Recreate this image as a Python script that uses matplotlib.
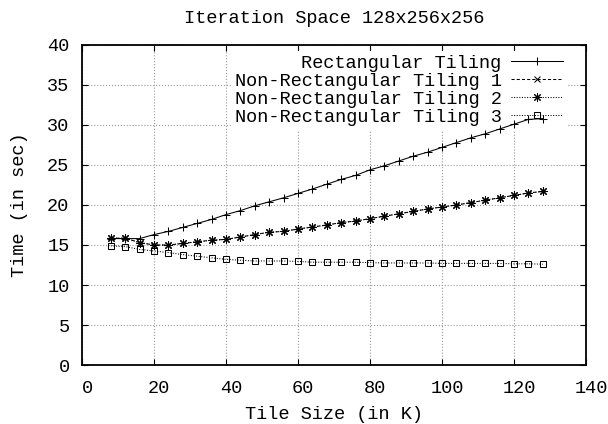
import matplotlib
matplotlib.use("Agg")
import matplotlib.pyplot as plt
import matplotlib.transforms as mtransforms
import numpy as np

# tile sizes (K)
tile_size = [8, 12, 16, 20, 24, 28, 32, 36, 40, 44, 48, 52, 56, 60, 64, 68,
             72, 76, 80, 84, 88, 92, 96, 100, 104, 108, 112, 116, 120, 124, 128]

rect = [15.8, 15.8, 15.8, 16.3, 16.7, 17.2, 17.7, 18.2, 18.8, 19.3, 19.9, 20.4,
        20.9, 21.45, 22.0, 22.6, 23.2, 23.7, 24.4, 24.9, 25.5, 26.1, 26.6, 27.2,
        27.8, 28.4, 28.9, 29.5, 30.1, 30.7, 30.8]

nonrect1 = [15.85, 15.85, 15.3, 15.0, 15.0, 15.2, 15.4, 15.6, 15.7, 16.0, 16.3,
            16.6, 16.7, 17.0, 17.25, 17.5, 17.8, 18.0, 18.3, 18.6, 18.9, 19.2,
            19.5, 19.75, 20.0, 20.3, 20.6, 20.9, 21.2, 21.5, 21.7]

nonrect2 = [15.85, 15.85, 15.3, 15.0, 15.0, 15.2, 15.4, 15.6, 15.7, 16.0, 16.3,
            16.6, 16.7, 17.0, 17.25, 17.5, 17.8, 18.0, 18.3, 18.6, 18.9, 19.2,
            19.5, 19.75, 20.0, 20.3, 20.6, 20.9, 21.2, 21.5, 21.7]

nonrect3 = [14.9, 14.8, 14.45, 14.25, 14.05, 13.8, 13.6, 13.4, 13.2, 13.1, 13.0,
            13.0, 13.0, 12.95, 12.85, 12.85, 12.85, 12.85, 12.8, 12.75, 12.75,
            12.75, 12.75, 12.7, 12.7, 12.7, 12.7, 12.7, 12.65, 12.65, 12.6]

labels = ["Rectangular Tiling", "Non-Rectangular Tiling 1",
          "Non-Rectangular Tiling 2", "Non-Rectangular Tiling 3"]

FS = 13.4
plt.rcParams["font.family"] = ["Liberation Mono", "DejaVu Sans Mono"]
plt.rcParams["font.size"] = FS

fig = plt.figure(figsize=(6.08, 4.24), dpi=100)
ax = fig.add_axes([82 / 608, 1 - 365 / 424, (586 - 82) / 608, (365 - 45) / 424])

lw = 0.75
ax.plot(tile_size, rect, color="black", lw=lw, ls="-", marker="+",
        markersize=6, markeredgewidth=lw, label=labels[0], zorder=3)
ax.plot(tile_size, nonrect1, color="black", lw=lw, ls=(0, (3, 2)), marker="x",
        markersize=5, markeredgewidth=lw, label=labels[1], zorder=3)
ax.plot(tile_size, nonrect2, color="black", lw=lw, ls=(0, (1, 1.5)), marker=(8, 2, 0),
        markersize=6, markeredgewidth=lw, label=labels[2], zorder=3)
ax.plot(tile_size, nonrect3, color="black", lw=lw, ls=(0, (1, 1.5)), marker="s",
        markersize=5, markeredgewidth=lw, markerfacecolor="none",
        label=labels[3], zorder=3)

ax.set_xlim(0, 140)
ax.set_ylim(0, 40)
ax.set_xticks(np.arange(0, 141, 20))
ax.set_yticks(np.arange(0, 41, 5))
ax.set_axisbelow(True)
ax.grid(True, color="#999999", ls=":", lw=0.8)
ax.tick_params(direction="in", top=True, right=True, length=4, width=0.8,
               labelsize=FS)
ax.tick_params(axis="x", pad=11)
ax.tick_params(axis="y", pad=9)
for sp in ax.spines.values():
    sp.set_linewidth(1.3)

# gnuplot puts the x tick numbers a little right of the ticks
shift = mtransforms.ScaledTranslation(5 / 100, 0, fig.dpi_scale_trans)
for lab in ax.get_xticklabels():
    lab.set_transform(lab.get_transform() + shift)

ax.set_title("Iteration Space 128x256x256", fontsize=FS, pad=16)
ax.set_xlabel("Tile Size (in K)", fontsize=FS, labelpad=6)
ax.set_ylabel("Time (in sec)", fontsize=FS, labelpad=14)

leg = ax.legend(loc="upper right", bbox_to_anchor=(0.962, 0.982),
                markerfirst=False, frameon=True,
                facecolor="white", edgecolor="none", framealpha=1,
                fancybox=False, handlelength=2.8, handletextpad=0.5,
                labelspacing=0.06, borderpad=0.2, borderaxespad=0.0,
                fontsize=FS)
leg.set_zorder(1)

fig.savefig("out.png", dpi=100)
